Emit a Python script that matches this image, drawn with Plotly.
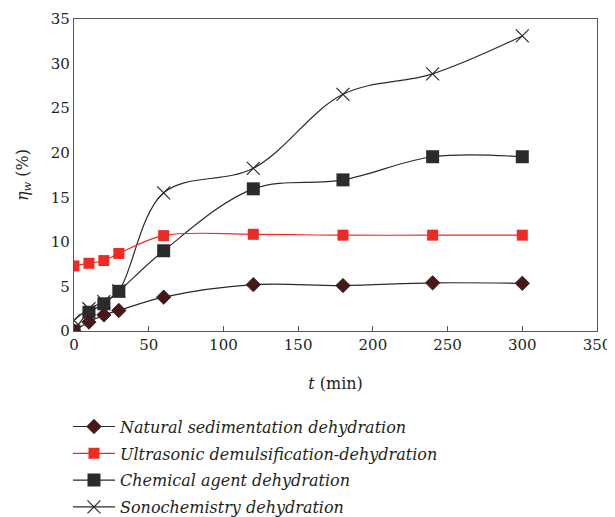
import plotly.graph_objects as go

t = [0, 10, 20, 30, 60, 120, 180, 240, 300]
natural = [0.0, 1.0, 1.8, 2.3, 3.8, 5.2, 5.1, 5.4, 5.35]
ultrasonic = [7.3, 7.6, 7.9, 8.7, 10.7, 10.85, 10.75, 10.75, 10.75]
chemical = [0.0, 2.1, 3.05, 4.45, 9.0, 15.95, 16.95, 19.55, 19.55]
sono = [1.2, 2.5, 3.3, 4.5, 15.5, 18.25, 26.55, 28.85, 33.1]

names = ["Natural sedimentation dehydration",
         "Ultrasonic demulsification-dehydration",
         "Chemical agent dehydration",
         "Sonochemistry dehydration"]

FONT = "DejaVu Serif"

fig = go.Figure()
fig.add_trace(go.Scatter(
    x=t, y=sono, name="<i>" + names[3] + "</i>", mode="lines+markers",
    line=dict(color="#2a2a2a", width=1.2, shape="spline", smoothing=1.0),
    marker=dict(symbol="x-thin-open", size=13, color="#2a2a2a", line=dict(width=1.2, color="#2a2a2a")),
    legendrank=4, legendgroup="d"))
fig.add_trace(go.Scatter(
    x=t, y=chemical, name="<i>" + names[2] + "</i>", mode="lines+markers",
    line=dict(color="#2a2a2a", width=1.2, shape="spline", smoothing=1.0),
    marker=dict(symbol="square", size=13, color="#2b2b2b"),
    legendrank=3, legendgroup="c"))
fig.add_trace(go.Scatter(
    x=t, y=ultrasonic, name="<i>" + names[1] + "</i>", mode="lines+markers",
    line=dict(color="#ee2a24", width=1.2, shape="spline", smoothing=1.0),
    marker=dict(symbol="square", size=11, color="#ee2a24"),
    legendrank=2, legendgroup="b"))
fig.add_trace(go.Scatter(
    x=t, y=natural, name="<i>" + names[0] + "</i>", mode="lines+markers",
    line=dict(color="#2a2a2a", width=1.2, shape="spline", smoothing=1.0),
    marker=dict(symbol="diamond", size=11, color="#4a1616", line=dict(width=1, color="#2a2a2a")),
    legendrank=1, legendgroup="a"))

fig.update_layout(
    width=607, height=509,
    margin=dict(l=66, r=18, t=11, b=186, autoexpand=False),
    paper_bgcolor="white", plot_bgcolor="white",
    font=dict(family=FONT, size=15, color="#231f20"),
    showlegend=True,
    legend=dict(x=-0.0115, y=-0.252, xanchor="left", yanchor="top",
                font=dict(family=FONT, size=16, color="#231f20"),
                itemwidth=42,
                tracegroupgap=3, bgcolor="rgba(0,0,0,0)"),
    xaxis=dict(range=[0, 350], tickvals=[0, 50, 100, 150, 200, 250, 300, 350],
               showline=True, linecolor="#555555", linewidth=1.2, mirror=True,
               ticks="inside", ticklen=5, tickcolor="#555555", showgrid=False, zeroline=False,
               automargin=False,
               title=dict(text="<i>t</i> (min)", font=dict(family=FONT, size=16), standoff=24),
               tickfont=dict(family=FONT, size=15)),
    yaxis=dict(range=[0, 35], tickvals=[0, 5, 10, 15, 20, 25, 30, 35],
               showline=True, linecolor="#555555", linewidth=1.2, mirror=True,
               ticks="", showgrid=False, zeroline=False, automargin=False,
               title=dict(text="<i>η<sub>w</sub></i> (%)", font=dict(family=FONT, size=16), standoff=18),
               tickfont=dict(family=FONT, size=15)),
)

fig.write_html("out.html")
